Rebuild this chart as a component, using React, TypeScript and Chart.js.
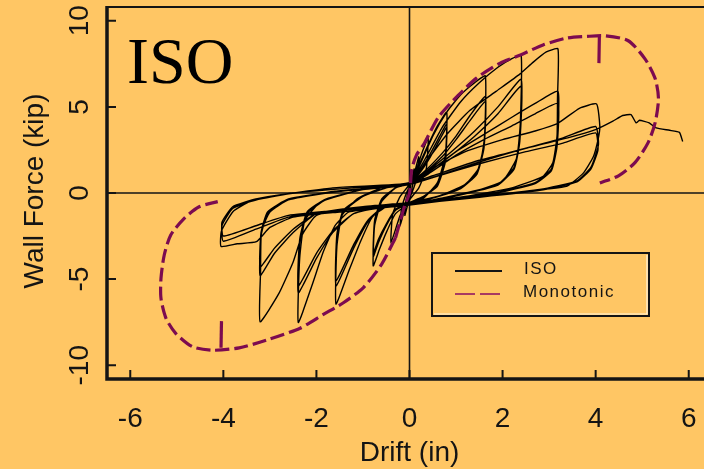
import { useEffect, useRef } from "react";
import { Chart, registerables } from "chart.js";

Chart.register(...registerables);

// ---------- data ----------
const xTicks = [-6, -4, -2, 0, 2, 4, 6];
const yTicks = [-10, -5, 0, 5, 10];
const xMin = -6.5;
const xMax = 6.5;
const yMin = -10.8;
const yMax = 10.8;
const xTitle = "Drift (in)";
const yTitle = "Wall Force (kip)";
const panelLabel = "ISO";
const seriesNames = ["ISO", "Monotonic"];

// Monotonic envelope (drift in, force kip)
const monoPos = [
  [-0.3, -2.6], [-0.1, -0.7], [0, 0], [0.05, 1.38], [0.15, 2.2], [0.32, 2.89], [0.62, 4.4], [1.04, 5.65],
  [1.44, 6.67], [1.94, 7.53], [2.37, 8.0], [2.87, 8.6], [3.37, 8.99], [3.8, 9.09], [4.2, 9.13],
  [4.7, 8.84], [5.06, 7.79], [5.28, 6.63], [5.35, 5.47], [5.28, 4.1], [5.13, 2.94], [4.85, 1.78],
  [4.49, 1.0], [4.09, 0.58],
];
const monoPosBranch = [[4.08, 9.09], [4.07, 7.54]];
const monoNeg = [
  [-0.3, -2.6], [-0.6, -4.14], [-0.99, -5.49], [-1.42, -6.37], [-1.85, -7.05], [-2.35, -7.85],
  [-3.08, -8.55], [-3.66, -8.99], [-4.23, -9.13], [-4.66, -8.93], [-5.02, -8.16], [-5.23, -7.29],
  [-5.34, -6.12], [-5.34, -4.96], [-5.27, -3.6], [-5.13, -2.44], [-4.85, -1.5], [-4.52, -0.8],
  [-4.12, -0.5],
];
const monoNegBranch = [[-4.05, -8.98], [-4.04, -7.44]];

// ISO cyclic test, grouped by amplitude
const isoSmall = [
  [0, 0], [0.05, 0.8], [0.1, 1.4], [0.08, 0.6], [0, -0.3], [-0.05, -0.8], [-0.1, -1.3], [-0.08, -0.5], [0, 0.3],
  [0.1, 1.1], [0.2, 2.1], [0.17, 1.0], [0.05, 0.0], [-0.1, -0.9], [-0.2, -1.9], [-0.17, -0.9], [-0.05, 0.1],
  [0.1, 0.9], [0.25, 2.2], [0.4, 3.2], [0.36, 1.4], [0.2, 0.3], [0, -0.4], [-0.2, -1.3], [-0.4, -2.9],
  [-0.36, -1.2], [-0.2, -0.2], [0, 0.5],
];
const iso08 = [
  [0.2, 1.6], [0.4, 2.8], [0.6, 3.9], [0.8, 4.69], [0.77, 2.2], [0.6, 0.6], [0.3, -0.3], [0, -0.6],
  [-0.3, -1.2], [-0.5, -2.3], [-0.65, -3.3], [-0.78, -4.23], [-0.75, -1.9], [-0.6, -0.5], [-0.3, 0.3], [0, 0.6],
  [0.2, 1.2], [0.45, 2.3], [0.65, 3.3], [0.8, 4.0], [0.77, 1.9], [0.6, 0.5], [0.3, -0.2], [0, -0.6],
  [-0.3, -1.0], [-0.5, -1.9], [-0.67, -2.9], [-0.78, -3.7], [-0.75, -1.7], [-0.6, -0.4], [-0.3, 0.3], [0, 0.6],
  [0.2, 1.1], [0.45, 2.1], [0.65, 3.1], [0.8, 3.8], [0.77, 1.8], [0.6, 0.4], [0.3, -0.2], [0, -0.55],
  [-0.3, -0.95], [-0.5, -1.8], [-0.67, -2.7], [-0.78, -3.5], [-0.75, -1.6], [-0.6, -0.35], [-0.3, 0.3], [0, 0.55],
];
const iso16 = [
  [0.2, 1.5], [0.5, 3.3], [0.8, 4.7], [1.1, 5.7], [1.4, 6.4], [1.63, 6.8], [1.61, 3.2], [1.5, 1.5], [1.2, 0.5],
  [0.6, -0.2], [0, -0.55], [-0.5, -0.8], [-0.8, -1.4], [-1.05, -2.8], [-1.3, -4.5], [-1.58, -6.45],
  [-1.56, -3.1], [-1.45, -1.3], [-1.1, -0.3], [-0.5, 0.4], [0, 0.6],
  [0.3, 1.2], [0.7, 2.3], [1.0, 3.3], [1.3, 4.5], [1.63, 5.6], [1.6, 2.8], [1.45, 1.2], [1.1, 0.3], [0.5, -0.3],
  [0, -0.6], [-0.6, -0.9], [-0.9, -1.7], [-1.2, -3.2], [-1.58, -5.4], [-1.56, -2.6], [-1.42, -1.1], [-1.0, -0.2],
  [-0.5, 0.3], [0, 0.6],
  [0.3, 1.1], [0.7, 2.1], [1.0, 3.1], [1.3, 4.2], [1.63, 5.3], [1.6, 2.6], [1.45, 1.1], [1.1, 0.25], [0.5, -0.3],
  [0, -0.6], [-0.6, -0.9], [-0.9, -1.6], [-1.2, -3.0], [-1.58, -5.1], [-1.56, -2.4], [-1.42, -1.0], [-1.0, -0.2],
  [-0.5, 0.3], [0, 0.55],
];
const iso24 = [
  [0.3, 1.8], [0.7, 3.8], [1.1, 5.3], [1.5, 6.4], [1.9, 7.3], [2.2, 7.8], [2.4, 7.98], [2.38, 4.0], [2.3, 2.0],
  [2.0, 0.7], [1.4, 0.1], [0.5, -0.4], [-0.5, -0.8], [-1.3, -1.1], [-1.6, -1.9], [-1.85, -3.4], [-2.1, -5.4],
  [-2.39, -7.52], [-2.36, -3.8], [-2.25, -1.6], [-1.9, -0.5], [-1.0, 0.2], [0, 0.55],
  [0.4, 1.3], [0.9, 2.4], [1.4, 3.6], [1.9, 5.0], [2.4, 6.6], [2.37, 3.2], [2.25, 1.5], [1.9, 0.5], [1.2, 0.0],
  [0.4, -0.45], [-0.6, -0.8], [-1.2, -1.2], [-1.65, -2.3], [-2.0, -3.8], [-2.39, -5.8], [-2.36, -2.9],
  [-2.2, -1.2], [-1.8, -0.4], [-1.0, 0.2], [0, 0.5],
  [0.4, 1.2], [0.9, 2.2], [1.4, 3.3], [1.9, 4.6], [2.4, 6.2], [2.37, 3.0], [2.25, 1.4], [1.9, 0.45], [1.2, -0.05],
  [0.4, -0.5], [-0.6, -0.85], [-1.2, -1.2], [-1.65, -2.2], [-2.0, -3.5], [-2.39, -5.4], [-2.36, -2.7],
  [-2.2, -1.1], [-1.8, -0.35], [-1.0, 0.2], [0, 0.5],
];
const iso32 = [
  [0.3, 1.6], [0.8, 3.4], [1.3, 4.8], [1.86, 5.9], [2.37, 6.9], [2.66, 7.6], [2.94, 8.19], [3.19, 8.37],
  [3.18, 5.5], [3.17, 3.3], [3.08, 1.76], [2.86, 0.95], [2.2, 0.3], [1.2, -0.2], [0, -0.6], [-1.2, -0.9],
  [-2.0, -1.3], [-2.3, -2.4], [-2.5, -4.0], [-2.8, -5.8], [-3.21, -7.48], [-3.2, -4.5], [-3.18, -2.2],
  [-3.0, -1.1], [-2.6, -0.4], [-1.6, 0.1], [0, 0.55],
  [0.4, 1.2], [1.0, 2.4], [1.6, 3.4], [2.2, 4.4], [2.7, 5.2], [3.19, 5.9], [3.17, 3.0], [3.05, 1.4], [2.7, 0.6],
  [1.8, 0.0], [0.5, -0.45], [-1.0, -0.8], [-2.0, -1.2], [-2.5, -2.3], [-2.9, -3.5], [-3.21, -4.8],
  [-3.19, -2.5], [-3.05, -1.2], [-2.6, -0.4], [-1.5, 0.1], [0, 0.5],
  [0.4, 1.1], [1.0, 2.2], [1.6, 3.1], [2.2, 3.9], [2.7, 4.6], [3.19, 5.2], [3.17, 2.7], [3.05, 1.3], [2.7, 0.55],
  [1.8, -0.05], [0.5, -0.5], [-1.0, -0.85], [-2.0, -1.2], [-2.5, -2.1], [-2.9, -3.2], [-3.21, -4.3],
  [-3.19, -2.3], [-3.05, -1.1], [-2.6, -0.35], [-1.5, 0.1], [0, 0.5],
];
const iso40 = [
  [0.4, 1.3], [1.2, 2.4], [2.0, 3.1], [2.7, 3.6], [3.19, 4.05], [3.65, 4.92], [4.02, 5.17], [4.09, 3.86],
  [4.05, 3.08], [3.95, 2.1], [3.73, 1.14], [3.37, 0.38], [2.5, 0.1], [1.2, -0.3], [0, -0.7], [-1.5, -1.1],
  [-2.5, -1.4], [-3.0, -2.0], [-3.29, -2.83], [-3.7, -2.95], [-4.05, -3.1], [-4.04, -2.2], [-3.79, -1.07],
  [-3.43, -0.5], [-2.72, -0.1], [-1.65, 0.3], [0, 0.55],
  [0.5, 1.0], [1.5, 1.9], [2.5, 2.6], [3.3, 3.2], [4.0, 3.86], [4.06, 2.8], [3.9, 1.5], [3.6, 0.7], [2.8, 0.2],
  [1.5, -0.2], [0, -0.65], [-1.5, -1.0], [-2.6, -1.4], [-3.3, -2.1], [-4.0, -2.8], [-4.03, -1.9], [-3.8, -0.9],
  [-3.3, -0.4], [-2.5, 0.0], [-1.2, 0.3], [0, 0.5],
  [0.5, 0.9], [1.5, 1.7], [2.5, 2.4], [3.3, 2.9], [4.0, 3.49], [4.05, 2.5], [3.9, 1.4], [3.6, 0.65], [2.8, 0.15],
  [1.5, -0.25], [0, -0.65], [-1.5, -1.0], [-2.6, -1.3], [-3.3, -1.9], [-4.0, -2.5], [-4.03, -1.7], [-3.8, -0.8],
  [-3.3, -0.35], [-2.5, 0.0], [-1.2, 0.3], [0, 0.5],
];
const isoFinal = [
  [0.5, 0.9], [1.5, 1.8], [2.5, 2.6], [3.4, 3.2], [4.01, 3.69], [4.37, 4.17], [4.58, 4.5], [4.76, 4.55],
  [4.87, 4.07], [4.94, 4.22], [5.15, 4.07], [5.3, 3.78], [5.59, 3.64], [5.8, 3.52], [5.87, 2.99],
];

// ---------- style ----------
const BG = "rgb(255, 198, 100)";
const INK = "#141414";
const MONO = "#7c0b50";
const SANS = '"Liberation Sans", Arial, sans-serif';
const SERIF = '"Liberation Serif", "Times New Roman", serif';

const toPts = (arr: number[][]) => arr.map(([x, y]) => ({ x, y }));

const decor = {
  id: "decor",
  beforeDraw(chart: any) {
    const { ctx, width, height } = chart;
    ctx.save();
    ctx.fillStyle = BG;
    ctx.fillRect(0, 0, width, height);
    ctx.restore();
  },
  beforeDatasetsDraw(chart: any) {
    const { ctx, chartArea: a, scales } = chart;
    const xs = scales.x;
    const ys = scales.y;
    ctx.save();
    ctx.strokeStyle = INK;
    ctx.lineWidth = 1.6;
    const x0 = xs.getPixelForValue(0);
    const y0 = ys.getPixelForValue(0);
    ctx.beginPath();
    ctx.moveTo(x0, a.top);
    ctx.lineTo(x0, a.bottom);
    ctx.moveTo(a.left, y0);
    ctx.lineTo(a.right, y0);
    ctx.stroke();
    // panel label
    ctx.fillStyle = "#000";
    ctx.font = `66px ${SERIF}`;
    ctx.textAlign = "left";
    ctx.textBaseline = "alphabetic";
    ctx.fillText(panelLabel, a.left + 20, a.top + 76);
    ctx.restore();
  },
  afterDraw(chart: any) {
    const { ctx, chartArea: a, scales } = chart;
    const xs = scales.x;
    const ys = scales.y;
    ctx.save();
    ctx.strokeStyle = INK;
    // frame
    ctx.lineWidth = 2;
    ctx.beginPath();
    ctx.moveTo(a.left, a.top);
    ctx.lineTo(a.right, a.top);
    ctx.lineTo(a.right, a.bottom);
    ctx.stroke();
    ctx.lineWidth = 3.5;
    ctx.beginPath();
    ctx.moveTo(a.left, a.top - 1);
    ctx.lineTo(a.left, a.bottom);
    ctx.lineTo(a.right, a.bottom);
    ctx.stroke();
    // ticks (inward)
    ctx.lineWidth = 2;
    ctx.beginPath();
    yTicks.forEach((v) => {
      const p = ys.getPixelForValue(v);
      ctx.moveTo(a.left, p);
      ctx.lineTo(a.left + 9, p);
    });
    xTicks.forEach((v) => {
      const p = xs.getPixelForValue(v);
      ctx.moveTo(p, a.bottom);
      ctx.lineTo(p, a.bottom - 9);
    });
    ctx.stroke();
    // tick labels
    ctx.fillStyle = INK;
    ctx.font = `28px ${SANS}`;
    ctx.textAlign = "center";
    ctx.textBaseline = "alphabetic";
    xTicks.forEach((v) => {
      ctx.fillText(String(v), xs.getPixelForValue(v), a.bottom + 48);
    });
    yTicks.forEach((v) => {
      ctx.save();
      ctx.translate(a.left - 19, ys.getPixelForValue(v));
      ctx.rotate(-Math.PI / 2);
      ctx.fillText(String(v), 0, 0);
      ctx.restore();
    });
    // axis titles
    ctx.fillText(xTitle, (a.left + a.right) / 2, a.bottom + 82);
    ctx.save();
    ctx.translate(a.left - 64, (a.top + a.bottom) / 2 - 2);
    ctx.rotate(-Math.PI / 2);
    ctx.fillText(yTitle, 0, 0);
    ctx.restore();
    // legend
    const bx = a.left + 325;
    const by = a.top + 246;
    const bw = 217;
    const bh = 63;
    ctx.lineWidth = 2;
    ctx.strokeStyle = INK;
    ctx.strokeRect(bx, by, bw, bh);
    ctx.strokeStyle = "#fff6e0";
    ctx.lineWidth = 1.2;
    ctx.beginPath();
    ctx.moveTo(bx + 2, by + bh - 2);
    ctx.lineTo(bx + bw - 2, by + bh - 2);
    ctx.lineTo(bx + bw - 2, by + 2);
    ctx.stroke();
    ctx.lineWidth = 2;
    ctx.strokeStyle = INK;
    ctx.beginPath();
    ctx.moveTo(bx + 23, by + 18);
    ctx.lineTo(bx + 70, by + 18);
    ctx.stroke();
    ctx.strokeStyle = "#a83a62";
    ctx.setLineDash([20, 5]);
    ctx.beginPath();
    ctx.moveTo(bx + 23, by + 41);
    ctx.lineTo(bx + 70, by + 41);
    ctx.stroke();
    ctx.setLineDash([]);
    ctx.fillStyle = INK;
    ctx.font = `17px ${SANS}`;
    ctx.textAlign = "left";
    (ctx as any).letterSpacing = "1.5px";
    ctx.fillText(seriesNames[0], bx + 92, by + 21);
    ctx.fillText(seriesNames[1], bx + 91, by + 44);
    (ctx as any).letterSpacing = "0px";
    ctx.restore();
  },
};

export default function App() {
  const ref = useRef<HTMLCanvasElement | null>(null);
  useEffect(() => {
    document.body.style.margin = "0";
    document.body.style.background = BG;
    const canvas = ref.current;
    if (!canvas) return;
    const monoStyle = {
      borderColor: MONO,
      borderWidth: 3.2,
      borderDash: [14, 5],
      pointRadius: 0,
      showLine: true,
      tension: 0.25,
      fill: false,
    };
    const isoData = [...isoSmall, ...iso08, ...iso16, ...iso24, ...iso32, ...iso40, ...isoFinal];
    const chart = new Chart(canvas, {
      type: "scatter",
      data: {
        datasets: [
          { label: seriesNames[1], data: toPts(monoPos), ...monoStyle },
          { label: seriesNames[1] + " b1", data: toPts(monoPosBranch), ...monoStyle, borderDash: [] },
          { label: seriesNames[1] + " n", data: toPts(monoNeg), ...monoStyle },
          { label: seriesNames[1] + " b2", data: toPts(monoNegBranch), ...monoStyle, borderDash: [] },
          {
            label: seriesNames[0],
            data: toPts(isoData),
            borderColor: "#000",
            borderWidth: 1.4,
            pointRadius: 0,
            showLine: true,
            tension: 0.15,
            fill: false,
          },
        ],
      },
      options: {
        animation: false,
        responsive: false,
        layout: { padding: { left: 107, top: 7, right: 8, bottom: 90 } },
        plugins: { legend: { display: false }, tooltip: { enabled: false } },
        scales: {
          x: { type: "linear", min: xMin, max: xMax, display: false },
          y: { type: "linear", min: yMin, max: yMax, display: false },
        },
      },
      plugins: [decor],
    });
    return () => chart.destroy();
  }, []);
  return (
    <div style={{ position: "fixed", left: 0, top: 0, width: 720, height: 469, overflow: "hidden", background: BG }}>
      <canvas ref={ref} width={720} height={469} style={{ display: "block" }} />
    </div>
  );
}
